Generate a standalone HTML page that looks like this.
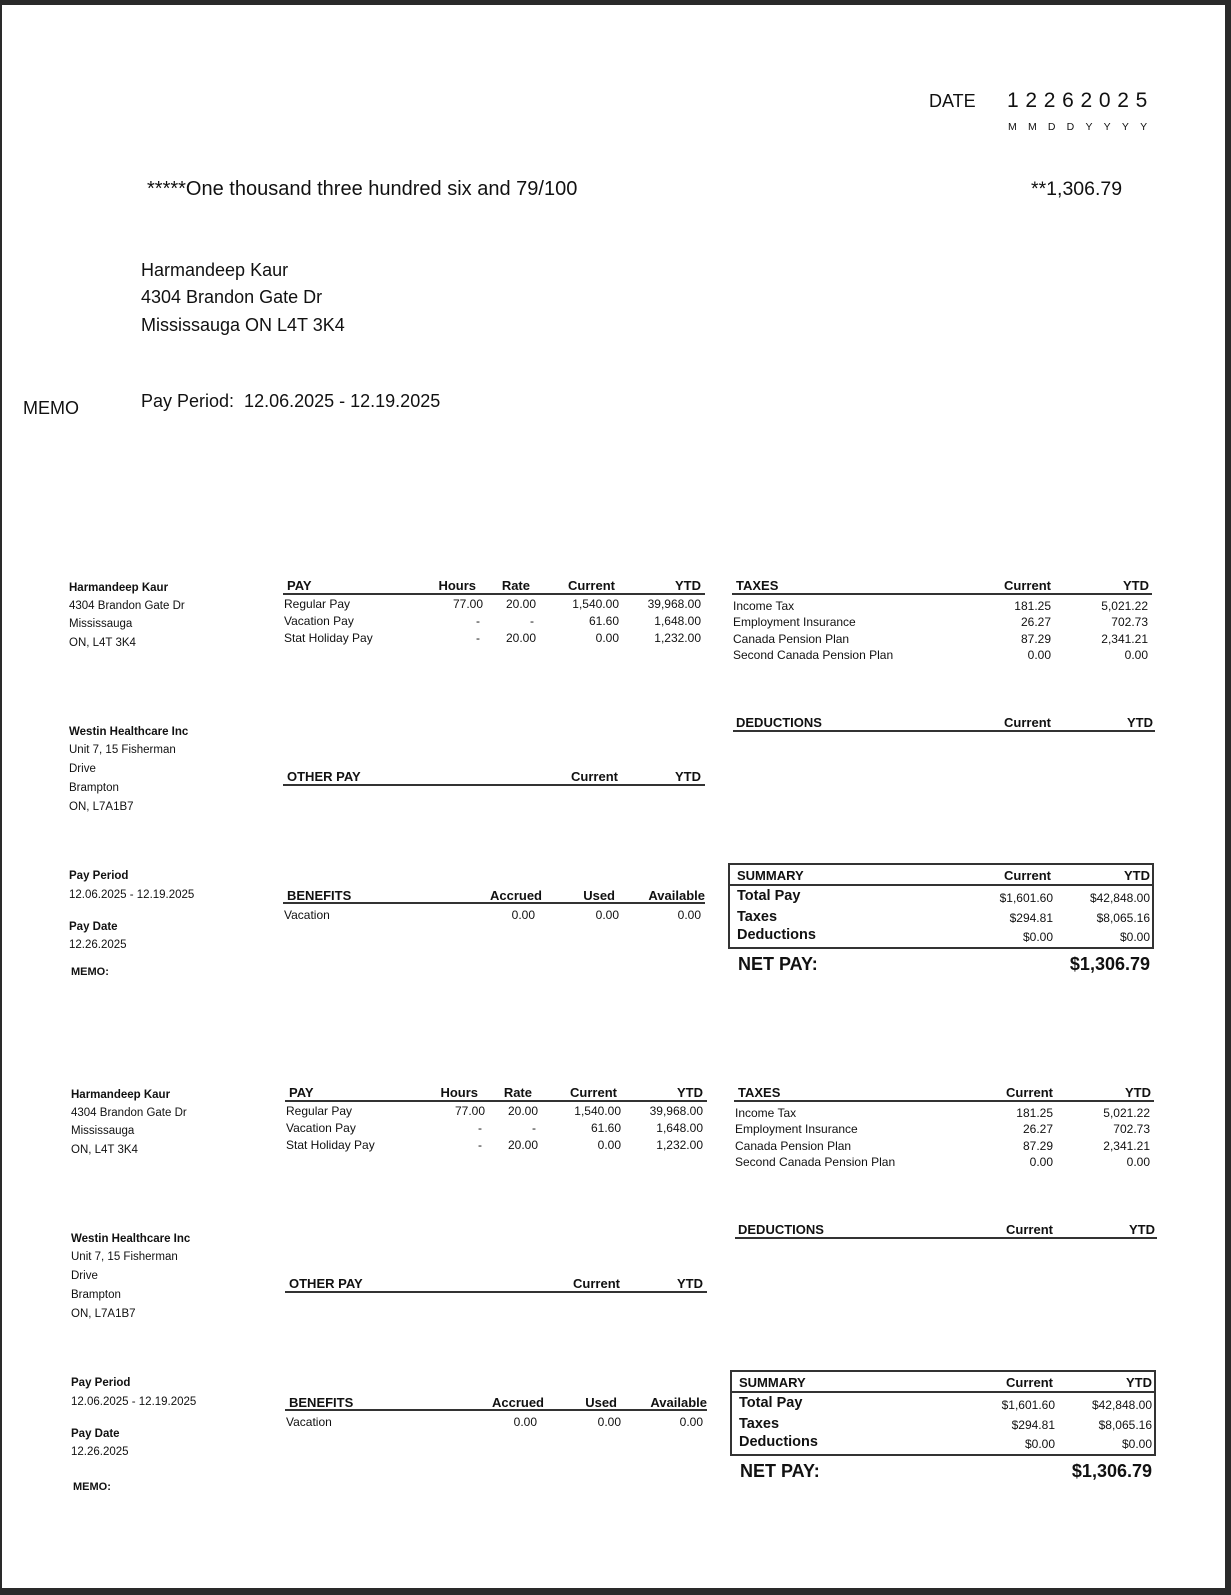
<!DOCTYPE html>
<html><head><meta charset="utf-8"><style>
html,body{margin:0;padding:0;background:#fff}
body{width:1231px;height:1595px;position:relative;overflow:hidden;font-family:"Liberation Sans",Arial,sans-serif;color:#111}
.frame{position:absolute;left:0;top:0;width:1231px;height:1595px;box-sizing:border-box;border-top:5px solid #2a2a2a;border-left:2px solid #2a2a2a;border-right:6px solid #2a2a2a;border-bottom:7px solid #2a2a2a}
.t{position:absolute;white-space:nowrap;height:16px;line-height:16px;font-size:12px}
.r{text-align:right}
.b{font-weight:bold}
.h{font-weight:bold;font-size:13px}
.ln{position:absolute;height:2px;background:#333}
.stub{position:absolute;left:0;top:0;width:1231px;height:1000px}
.box{position:absolute;left:728px;top:863px;width:422px;height:82px;border:2px solid #333}
</style></head><body>
<div class="frame"></div>

<div class="t" style="left:929px;top:91px;height:20px;line-height:20px;font-size:18px">DATE</div>
<div class="t" style="left:1007px;top:90px;height:22px;line-height:22px;font-size:21px;letter-spacing:6.7px">12262025</div>
<div class="t" style="left:1008px;top:119px;font-size:10.5px;letter-spacing:11.2px">MMDDYYYY</div>

<div class="t" style="left:147px;top:178px;height:22px;line-height:22px;font-size:20px">*****One thousand three hundred six and 79/100</div>
<div class="t" style="left:1031px;top:178px;height:22px;line-height:22px;font-size:19.5px">**1,306.79</div>

<div class="t" style="left:141px;top:259px;height:22px;line-height:22px;font-size:18px">Harmandeep Kaur</div>
<div class="t" style="left:141px;top:286px;height:22px;line-height:22px;font-size:18px">4304 Brandon Gate Dr</div>
<div class="t" style="left:141px;top:314px;height:22px;line-height:22px;font-size:18px">Mississauga ON L4T 3K4</div>

<div class="t" style="left:23px;top:397px;height:22px;line-height:22px;font-size:18px">MEMO</div>
<div class="t" style="left:141px;top:390px;height:22px;line-height:22px;font-size:18px">Pay Period:&nbsp; 12.06.2025 - 12.19.2025</div>

<div class="stub" id="s1">
<div class="t b" style="left:69px;top:580px;font-size:11.5px">Harmandeep Kaur</div>
<div class="t" style="left:69px;top:598px;font-size:11.5px">4304 Brandon Gate Dr</div>
<div class="t" style="left:69px;top:616px;font-size:11.5px">Mississauga</div>
<div class="t" style="left:69px;top:635px;font-size:11.5px">ON, L4T 3K4</div>
<div class="t b" style="left:69px;top:724px;font-size:11.5px">Westin Healthcare Inc</div>
<div class="t" style="left:69px;top:742px;font-size:11.5px">Unit 7, 15 Fisherman</div>
<div class="t" style="left:69px;top:761px;font-size:11.5px">Drive</div>
<div class="t" style="left:69px;top:780px;font-size:11.5px">Brampton</div>
<div class="t" style="left:69px;top:799px;font-size:11.5px">ON, L7A1B7</div>
<div class="t b" style="left:69px;top:868px;font-size:11.5px">Pay Period</div>
<div class="t" style="left:69px;top:887px;font-size:11.5px">12.06.2025 - 12.19.2025</div>
<div class="t b" style="left:69px;top:919px;font-size:11.5px">Pay Date</div>
<div class="t" style="left:69px;top:937px;font-size:11.5px">12.26.2025</div>
<div class="t b memo" style="left:71px;top:964px;font-size:11px">MEMO:</div>

<div class="t h" style="left:287px;top:578px">PAY</div>
<div class="t h r" style="right:755px;top:578px">Hours</div>
<div class="t h r" style="right:701px;top:578px">Rate</div>
<div class="t h r" style="right:616px;top:578px">Current</div>
<div class="t h r" style="right:530px;top:578px">YTD</div>
<div class="ln" style="left:283px;width:422px;top:593px"></div>
<div class="t" style="left:284px;top:596px">Regular Pay</div>
<div class="t r" style="right:748px;top:596px">77.00</div>
<div class="t r" style="right:695px;top:596px">20.00</div>
<div class="t r" style="right:612px;top:596px">1,540.00</div>
<div class="t r" style="right:530px;top:596px">39,968.00</div>
<div class="t" style="left:284px;top:613px">Vacation Pay</div>
<div class="t r" style="right:751px;top:613px">-</div>
<div class="t r" style="right:697px;top:613px">-</div>
<div class="t r" style="right:612px;top:613px">61.60</div>
<div class="t r" style="right:530px;top:613px">1,648.00</div>
<div class="t" style="left:284px;top:630px">Stat Holiday Pay</div>
<div class="t r" style="right:751px;top:630px">-</div>
<div class="t r" style="right:695px;top:630px">20.00</div>
<div class="t r" style="right:612px;top:630px">0.00</div>
<div class="t r" style="right:530px;top:630px">1,232.00</div>

<div class="t h" style="left:736px;top:578px">TAXES</div>
<div class="t h r" style="right:180px;top:578px">Current</div>
<div class="t h r" style="right:82px;top:578px">YTD</div>
<div class="ln" style="left:732px;width:420px;top:593px"></div>
<div class="t" style="left:733px;top:598px">Income Tax</div>
<div class="t r" style="right:180px;top:598px">181.25</div>
<div class="t r" style="right:83px;top:598px">5,021.22</div>
<div class="t" style="left:733px;top:614px">Employment Insurance</div>
<div class="t r" style="right:180px;top:614px">26.27</div>
<div class="t r" style="right:83px;top:614px">702.73</div>
<div class="t" style="left:733px;top:631px">Canada Pension Plan</div>
<div class="t r" style="right:180px;top:631px">87.29</div>
<div class="t r" style="right:83px;top:631px">2,341.21</div>
<div class="t" style="left:733px;top:647px">Second Canada Pension Plan</div>
<div class="t r" style="right:180px;top:647px">0.00</div>
<div class="t r" style="right:83px;top:647px">0.00</div>

<div class="t h" style="left:736px;top:715px">DEDUCTIONS</div>
<div class="t h r" style="right:180px;top:715px">Current</div>
<div class="t h r" style="right:78px;top:715px">YTD</div>
<div class="ln" style="left:733px;width:422px;top:730px"></div>

<div class="t h" style="left:287px;top:769px">OTHER PAY</div>
<div class="t h r" style="right:613px;top:769px">Current</div>
<div class="t h r" style="right:530px;top:769px">YTD</div>
<div class="ln" style="left:283px;width:422px;top:784px"></div>

<div class="t h" style="left:287px;top:888px">BENEFITS</div>
<div class="t h r" style="right:689px;top:888px">Accrued</div>
<div class="t h r" style="right:616px;top:888px">Used</div>
<div class="t h r" style="right:526px;top:888px">Available</div>
<div class="ln" style="left:283px;width:422px;top:902px"></div>
<div class="t" style="left:284px;top:907px">Vacation</div>
<div class="t r" style="right:696px;top:907px">0.00</div>
<div class="t r" style="right:612px;top:907px">0.00</div>
<div class="t r" style="right:530px;top:907px">0.00</div>

<div class="box"></div>
<div class="ln" style="left:730px;width:422px;top:884px"></div>
<div class="t h" style="left:737px;top:868px">SUMMARY</div>
<div class="t h r" style="right:180px;top:868px">Current</div>
<div class="t h r" style="right:81px;top:868px">YTD</div>
<div class="t b" style="left:737px;top:888px;font-size:14.5px">Total Pay</div>
<div class="t b" style="left:737px;top:909px;font-size:14.5px">Taxes</div>
<div class="t b" style="left:737px;top:927px;font-size:14.5px">Deductions</div>
<div class="t r" style="right:178px;top:890px">$1,601.60</div>
<div class="t r" style="right:81px;top:890px">$42,848.00</div>
<div class="t r" style="right:178px;top:910px">$294.81</div>
<div class="t r" style="right:81px;top:910px">$8,065.16</div>
<div class="t r" style="right:178px;top:929px">$0.00</div>
<div class="t r" style="right:81px;top:929px">$0.00</div>
<div class="t b" style="left:738px;top:953px;height:22px;line-height:22px;font-size:18px">NET PAY:</div>
<div class="t b r" style="right:81px;top:953px;height:22px;line-height:22px;font-size:18px">$1,306.79</div>
</div>

<script>
var s=document.getElementById('s1').cloneNode(true);
s.id='s2';s.style.top='507px';s.style.left='2px';
var m=s.querySelector('.memo');m.style.top='972px';
document.body.appendChild(s);
</script>
</body></html>
